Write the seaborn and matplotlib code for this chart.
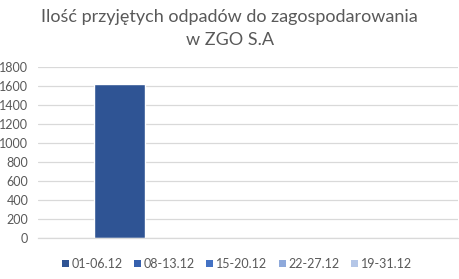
import matplotlib
matplotlib.use("Agg")
import matplotlib.pyplot as plt
import seaborn as sns
import pandas as pd

# data
periods = ["01-06.12", "08-13.12", "15-20.12", "22-27.12", "19-31.12"]
values = [1620, 0, 0, 0, 0]
group = ["ZGO"] * len(periods)
colors = ["#2F5494", "#3660AD", "#4472C4", "#8EA9DB", "#B4C6E7"]
yticks = [0, 200, 400, 600, 800, 1000, 1200, 1400, 1600, 1800]

sns.set_theme(style="white")
plt.rcParams['font.family'] = ['Lato', 'DejaVu Sans']

df = pd.DataFrame({"grupa": group, "okres": periods, "wartosc": values})

fig = plt.figure(figsize=(4.59, 2.79), dpi=100)
ax = fig.add_axes([38/459, 1 - 238/279, 420/459, (238-67)/279])

sns.barplot(data=df, x="grupa", y="wartosc", hue="okres", hue_order=periods,
            palette=colors, width=0.8, ax=ax, legend=False, saturation=1)

ax.set_ylim(0, 1800)
ax.set_xlim(-0.5757, 0.742)
ax.set_yticks(yticks)
ax.set_yticklabels([str(t) for t in yticks], color="#595959", fontsize=9)
ax.tick_params(axis='y', length=0, pad=7)
ax.set_xticks([])
ax.set_xlabel("")
ax.set_ylabel("")
ax.yaxis.grid(True, color="#D9D9D9", linewidth=0.9)
ax.set_axisbelow(True)
for s in ["top", "right", "left"]:
    ax.spines[s].set_visible(False)
ax.spines["bottom"].set_color("#D9D9D9")
ax.spines["bottom"].set_linewidth(0.9)

fig.text(0.5, 1 - 17/279, "Ilość przyjętych odpadów do zagospodarowania",
         ha="center", va="center", fontsize=13, color="#595959")
fig.text(0.5, 1 - 40/279, "w ZGO S.A",
         ha="center", va="center", fontsize=13, color="#595959")

from matplotlib.patches import Patch
handles = [Patch(facecolor=c, edgecolor="none") for c in colors]
fig.legend(handles, periods, loc="center", bbox_to_anchor=(237/459, 1 - 264/279),
           ncol=5, frameon=False, fontsize=9, handlelength=0.55, handleheight=0.55,
           handletextpad=0.25, columnspacing=0.9, labelcolor="#595959")

fig.savefig("out.png", dpi=100)
